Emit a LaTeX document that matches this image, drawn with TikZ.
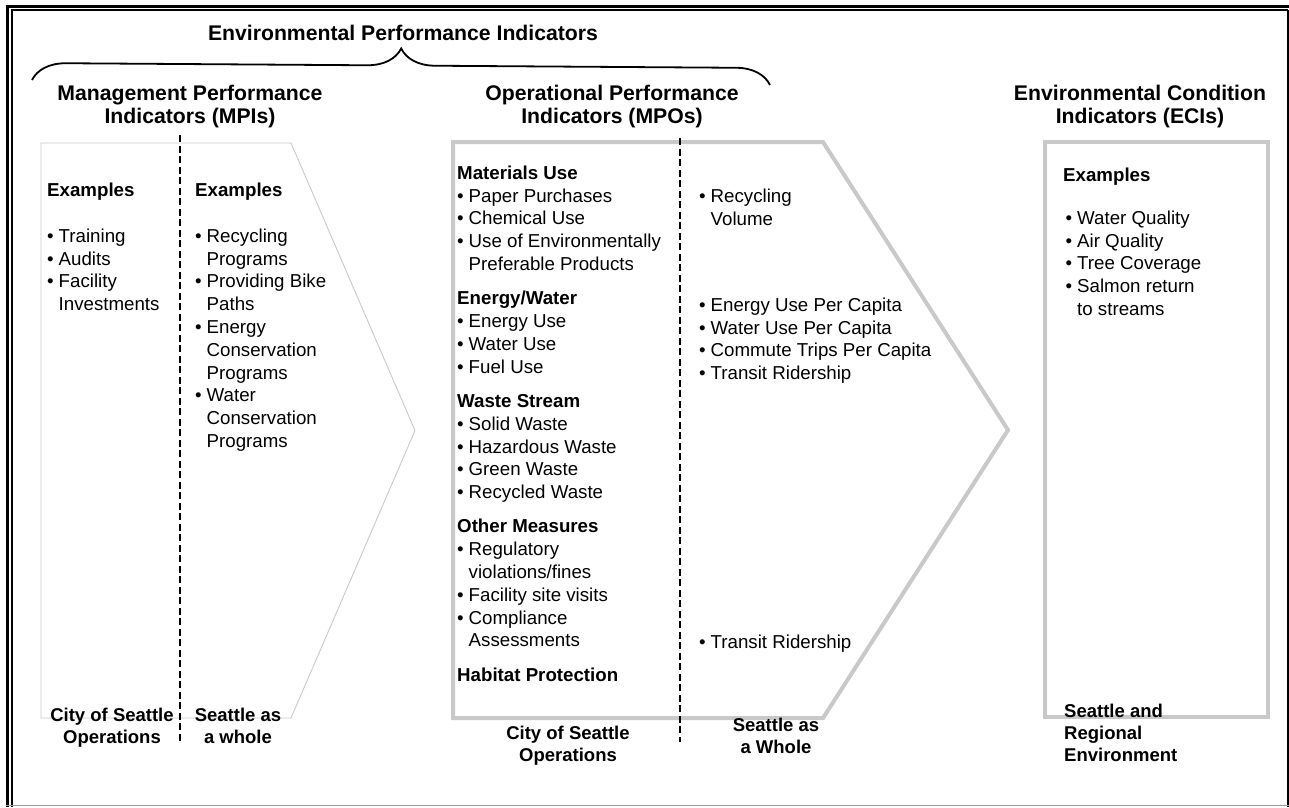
\documentclass[tikz,border=0pt]{standalone}
\usepackage{fontspec}
\setmainfont{Liberation Sans}
\usetikzlibrary{decorations.pathreplacing}
\definecolor{boxgray}{HTML}{C9C9C9}
\definecolor{rulegray}{HTML}{9A9A9A}
\newcommand{\titlefont}{\fontsize{21.2}{23}\selectfont\bfseries}
\newcommand{\footfont}{\fontsize{18.5}{22}\selectfont\bfseries}
\newcommand{\listfont}{\fontsize{18.7}{22.8}\selectfont}
\newcommand{\bitem}{\makebox[11.5pt][l]{\textbullet}}
\newcommand{\bcont}{\hspace*{11.5pt}}
\newcommand{\lstrut}{\rule{0pt}{16pt}}
\newcommand{\tstrut}{\rule{0pt}{18pt}}
\tikzstyle{ttl} = [font=\titlefont, align=center, inner sep=0pt, anchor=north, execute at begin node=\tstrut]
\tikzstyle{foot} = [font=\footfont, align=center, inner sep=0pt, anchor=north, execute at begin node=\lstrut]
\tikzstyle{lst} = [font=\listfont, align=left, inner sep=0pt, anchor=north west, execute at begin node=\lstrut]
\tikzstyle{chevthin} = [draw=boxgray, line width=0.9pt, line join=miter]
\tikzstyle{chevthick} = [draw=boxgray, line width=4pt, line join=miter]
\tikzstyle{divider} = [line width=1.6pt, dash pattern=on 7pt off 3.5pt]
\tikzstyle{bracket} = [line width=1.8pt, decorate, decoration={brace, amplitude=34pt}]

\begin{document}
\begin{tikzpicture}[x=1pt, y=-1pt]
        \useasboundingbox (0,0) rectangle (1289,807);

        % page frame
        \draw [line width=3pt] (7.5,807) -- (7.5,6.2) -- (1289,6.2);
        \draw [line width=1.6pt] (11.8,807) -- (11.8,9.8) -- (1287.7,9.8);
        \draw [line width=2pt] (1287.7,9.8) -- (1287.7,807);
        \draw [rulegray, line width=1.2pt] (6,805.6) -- (1289,805.6);

        % the three panels
        \draw [chevthin] (41,143) -- (291,143) -- (415,430.5) -- (291,718) -- (41,718) -- cycle;
        \draw [chevthick] (453,142) -- (823,142) -- (1008,430) -- (823,718) -- (453,718) -- cycle;
        \draw [chevthick] (1045,142) rectangle (1268,717);

        \coordinate (mpitop) at (180,135);
        \coordinate (mpibot) at (180,742);
        \coordinate (mpotop) at (680,138);
        \coordinate (mpobot) at (680,742);
        \draw [divider] (mpitop) -- (mpibot);
        \draw [divider] (mpotop) -- (mpobot);

        % titles
        \coordinate (bl) at (32,80);
        \coordinate (br) at (770,85);
        \draw [bracket] (bl) -- (br);
        \node (epi) [ttl] at (403,22) {Environmental Performance Indicators};
        \node (mpi) [ttl] at (190,85) {Management Performance\\Indicators (MPIs)};
        \node (mpo) [ttl] at (612,85) {Operational Performance\\Indicators (MPOs)};
        \node (eci) [ttl] at (1140,85) {Environmental Condition\\Indicators (ECIs)};

        % MPI columns
        \node (mpicity) [lst] at (47,183) {{\bfseries Examples}\\[22.8pt]
            \bitem Training\\
            \bitem Audits\\
            \bitem Facility\\
            \bcont Investments};
        \node (mpiwhole) [lst] at (195,183) {{\bfseries Examples}\\[22.8pt]
            \bitem Recycling\\
            \bcont Programs\\
            \bitem Providing Bike\\
            \bcont Paths\\
            \bitem Energy\\
            \bcont Conservation\\
            \bcont Programs\\
            \bitem Water\\
            \bcont Conservation\\
            \bcont Programs};

        % MPO columns
        \node (mpocity) [lst] at (457,165.5) {{\bfseries Materials Use}\\
            \bitem Paper Purchases\\
            \bitem Chemical Use\\
            \bitem Use of Environmentally\\
            \bcont Preferable Products\\[11.5pt]
            {\bfseries Energy/Water}\\
            \bitem Energy Use\\
            \bitem Water Use\\
            \bitem Fuel Use\\[11.5pt]
            {\bfseries Waste Stream}\\
            \bitem Solid Waste\\
            \bitem Hazardous Waste\\
            \bitem Green Waste\\
            \bitem Recycled Waste\\[11.5pt]
            {\bfseries Other Measures}\\
            \bitem Regulatory\\
            \bcont violations/fines\\
            \bitem Facility site visits\\
            \bitem Compliance\\
            \bcont Assessments\\[11.5pt]
            {\bfseries Habitat Protection}};
        \node (mporecyc) [lst] at (699,188.5) {\bitem Recycling\\ \bcont Volume};
        \node (mpocapita) [lst] at (699,297.5) {\bitem Energy Use Per Capita\\
            \bitem Water Use Per Capita\\
            \bitem Commute Trips Per Capita\\
            \bitem Transit Ridership};
        \node (mpotransit) [lst] at (699,632.5) {\bitem Transit Ridership};

        % ECI column
        \node (eciex) [lst, font=\listfont\bfseries] at (1063,165.5) {Examples};
        \node (ecilist) [lst] at (1065.5,210.5) {\bitem Water Quality\\
            \bitem Air Quality\\
            \bitem Tree Coverage\\
            \bitem Salmon return\\
            \bcont to streams};

        % scope labels
        \node (mpifootl) [foot] at (112,707.5) {City of Seattle\\Operations};
        \node (mpifootr) [foot] at (238,707.5) {Seattle as\\a whole};
        \node (mpofootl) [foot] at (568,725.5) {City of Seattle\\Operations};
        \node (mpofootr) [foot] at (776,717.5) {Seattle as\\a Whole};
        \node (ecifoot) [foot, align=left, anchor=north west] at (1064,703.5) {Seattle and\\Regional\\Environment};

    \end{tikzpicture}
\end{document}
